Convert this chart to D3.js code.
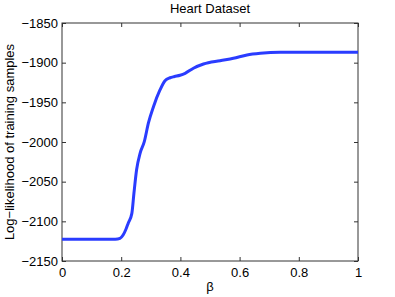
<!DOCTYPE html>
<html lang="en">
<head>
<meta charset="UTF-8">
<title>Heart Dataset</title>
<script src="https://d3js.org/d3.v7.min.js"></script>
<style>
  body { margin: 0; background: #fff; }
  svg text { font-family: "Liberation Sans", Arial, sans-serif; fill: #000; }
</style>
</head>
<body>
<div id="chart"></div>
<script>
// beta values and log-likelihood
const beta = [0, 0.05, 0.1, 0.15, 0.18, 0.196, 0.207, 0.216, 0.224, 0.236, 0.243, 0.252, 0.264, 0.278,
  0.292, 0.309, 0.331, 0.348, 0.365, 0.38, 0.399, 0.416, 0.444, 0.478, 0.534, 0.579, 0.625,
  0.67, 0.737, 0.8, 0.9, 1.0];
const logLik = [-2122.6, -2122.6, -2122.6, -2122.6, -2122.5, -2121.4, -2117, -2110, -2102, -2090, -2064.6,
  -2035, -2014, -1999.6, -1976, -1955.5, -1934.4, -1922.7, -1919, -1917.5, -1915.8, -1913.4,
  -1907, -1901.7, -1897.5, -1894.5, -1890.3, -1888.2, -1887, -1887, -1887, -1887];
const xTicks = [0, 0.2, 0.4, 0.6, 0.8, 1];
const yTicks = [-2150, -2100, -2050, -2000, -1950, -1900, -1850];

const W = 395, H = 297;
const margin = { top: 23, right: 37, bottom: 36, left: 62 };
const w = W - margin.left - margin.right;
const h = H - margin.top - margin.bottom;

const svg = d3.select("#chart").append("svg")
  .attr("width", W).attr("height", H);
const g = svg.append("g").attr("transform", `translate(${margin.left},${margin.top})`);

const x = d3.scaleLinear().domain([0, 1]).range([0, w]);
const y = d3.scaleLinear().domain([-2150, -1850]).range([h, 0]);

const fmt = d => d3.format("")(d).replace("-", "\u2212");

// axes, ticks pointing inward (matlab style)
const axStyle = sel => {
  sel.select(".domain").remove();
  sel.selectAll("line").attr("stroke", "#333");
  sel.selectAll("text").style("font-size", "13px");
};
g.append("g").attr("transform", `translate(0,${h})`)
  .call(d3.axisBottom(x).tickValues(xTicks).tickSize(-4).tickPadding(7).tickFormat(d3.format("")))
  .call(axStyle);
g.append("g")
  .call(d3.axisTop(x).tickValues(xTicks).tickSize(-4).tickFormat(""))
  .call(axStyle);
g.append("g")
  .call(d3.axisLeft(y).tickValues(yTicks).tickSize(-4).tickPadding(4).tickFormat(fmt))
  .call(axStyle);
g.append("g").attr("transform", `translate(${w},0)`)
  .call(d3.axisRight(y).tickValues(yTicks).tickSize(-4).tickFormat(""))
  .call(axStyle);

// box
g.append("rect").attr("width", w).attr("height", h)
  .attr("fill", "none").attr("stroke", "#333").attr("stroke-width", 1);

// the curve
const line = d3.line().x((d, i) => x(beta[i])).y(d => y(d)).curve(d3.curveMonotoneX);
g.append("path").datum(logLik)
  .attr("fill", "none").attr("stroke", "#2a3cff").attr("stroke-width", 3)
  .attr("stroke-linejoin", "round")
  .attr("d", line);

// labels
svg.append("text").attr("x", margin.left + w / 2).attr("y", 13)
  .attr("text-anchor", "middle").style("font-size", "13px").text("Heart Dataset");
svg.append("text").attr("x", margin.left + w / 2).attr("y", 291)
  .attr("text-anchor", "middle").style("font-size", "13px").text("β");
svg.append("text")
  .attr("transform", `translate(14,${margin.top + h / 2}) rotate(-90)`)
  .attr("text-anchor", "middle").style("font-size", "13px")
  .text("Log\u2212likelihood of training samples");
</script>
</body>
</html>
